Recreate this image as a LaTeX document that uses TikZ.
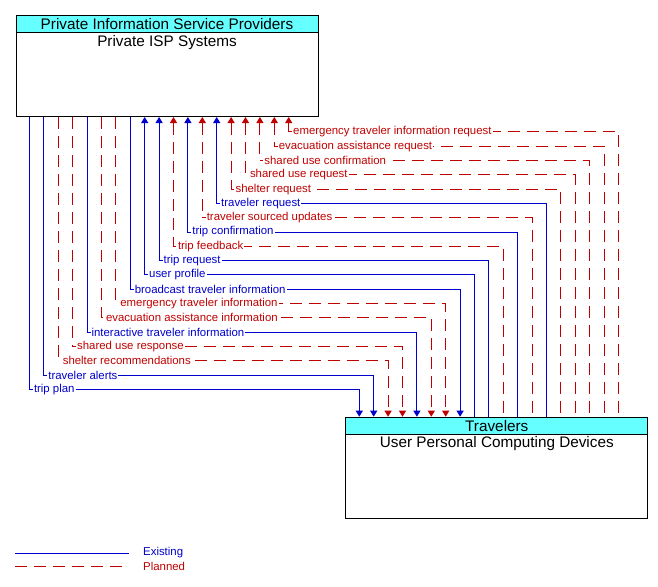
\documentclass[tikz,border=0pt]{standalone}
\usepackage{fontspec}
\setmainfont{Liberation Sans}
\usetikzlibrary{arrows.meta}
\definecolor{flowblue}{RGB}{0,0,204}
\definecolor{flowred}{RGB}{192,0,0}
\definecolor{hdrcyan}{RGB}{102,255,255}

\begin{document}
\begin{tikzpicture}[x=1pt,y=-1pt,
        box/.style={draw,line width=1pt,anchor=north west,inner sep=0pt},
        hdr/.style={draw,line width=1pt,fill=hdrcyan,anchor=north,minimum width=302pt,minimum height=17pt,inner sep=0pt,font=\fontsize{15.3}{17}\selectfont},
        sub/.style={anchor=north,inner sep=0pt,yshift=-1.5pt,font=\fontsize{15.3}{17}\selectfont},
        existing/.style={draw=flowblue,line width=1pt},
        planned/.style={draw=flowred,line width=1pt,dash pattern=on 12pt off 7pt},
        tipdown/.style={-{Triangle[length=6pt,width=7pt]}},
        tipup/.style={{Triangle[length=6pt,width=7pt]}-},
        lbl/.style={anchor=west,fill=white,inner xsep=1pt,inner ysep=0.5pt,xshift=3pt,font=\fontsize{11.4}{12}\selectfont},
        legend/.style={anchor=west,inner sep=0pt,font=\fontsize{11.4}{12}\selectfont},
        ]
    \useasboundingbox (0,0) rectangle (658,586);

    % the two systems
    \node (isp) [box, minimum width=302pt, minimum height=100.5pt] at (15.5,15.5) {};
    \node (isphdr) [hdr] at (isp.north) {Private Information Service Providers};
    \node (ispsub) [sub] at (isphdr.south) {Private ISP Systems};

    \node (trav) [box, minimum width=302pt, minimum height=101.3pt] at (345.3,416.7) {};
    \node (travhdr) [hdr] at (trav.north) {Travelers};
    \node (travsub) [sub] at (travhdr.south) {User Personal Computing Devices};

    % flows to the travelers
    \draw[existing,tipdown] (isp.south -| 29.5,0) |- node[lbl,pos=.5,text=flowblue] {trip plan} (359.3,389.3) -- (trav.north -| 359.3,0);
    \draw[existing,tipdown] (isp.south -| 43.9,0) |- node[lbl,pos=.5,text=flowblue] {traveler alerts} (373.7,375) -- (trav.north -| 373.7,0);
    \draw[planned,tipdown] (isp.south -| 58.3,0) |- node[lbl,pos=.5,text=flowred] {shelter recommendations} (388.1,360.7) -- (trav.north -| 388.1,0);
    \draw[planned,tipdown] (isp.south -| 72.7,0) |- node[lbl,pos=.5,text=flowred] {shared use response} (402.5,346.4) -- (trav.north -| 402.5,0);
    \draw[existing,tipdown] (isp.south -| 87.1,0) |- node[lbl,pos=.5,text=flowblue] {interactive traveler information} (416.9,332.1) -- (trav.north -| 416.9,0);
    \draw[planned,tipdown] (isp.south -| 101.5,0) |- node[lbl,pos=.5,text=flowred] {evacuation assistance information} (431.3,317.8) -- (trav.north -| 431.3,0);
    \draw[planned,tipdown] (isp.south -| 115.9,0) |- node[lbl,pos=.5,text=flowred] {emergency traveler information} (445.7,303.5) -- (trav.north -| 445.7,0);
    \draw[existing,tipdown] (isp.south -| 130.3,0) |- node[lbl,pos=.5,text=flowblue] {broadcast traveler information} (460.1,289.2) -- (trav.north -| 460.1,0);

    % flows to the service providers
    \draw[existing,tipup] (isp.south -| 144.7,0) |- node[lbl,pos=.5,text=flowblue] {user profile} (474.5,274.9) -- (trav.north -| 474.5,0);
    \draw[existing,tipup] (isp.south -| 159.1,0) |- node[lbl,pos=.5,text=flowblue] {trip request} (488.9,260.6) -- (trav.north -| 488.9,0);
    \draw[planned,tipup] (isp.south -| 173.5,0) |- node[lbl,pos=.5,text=flowred] {trip feedback} (503.3,246.3) -- (trav.north -| 503.3,0);
    \draw[existing,tipup] (isp.south -| 187.9,0) |- node[lbl,pos=.5,text=flowblue] {trip confirmation} (517.7,232) -- (trav.north -| 517.7,0);
    \draw[planned,tipup] (isp.south -| 202.3,0) |- node[lbl,pos=.5,text=flowred] {traveler sourced updates} (532.1,217.7) -- (trav.north -| 532.1,0);
    \draw[existing,tipup] (isp.south -| 216.7,0) |- node[lbl,pos=.5,text=flowblue] {traveler request} (546.5,203.4) -- (trav.north -| 546.5,0);
    \draw[planned,tipup] (isp.south -| 231.1,0) |- node[lbl,pos=.5,text=flowred] {shelter request} (560.9,189.1) -- (trav.north -| 560.9,0);
    \draw[planned,tipup] (isp.south -| 245.5,0) |- node[lbl,pos=.5,text=flowred] {shared use request} (575.3,174.8) -- (trav.north -| 575.3,0);
    \draw[planned,tipup] (isp.south -| 259.9,0) |- node[lbl,pos=.5,text=flowred] {shared use confirmation} (589.7,160.5) -- (trav.north -| 589.7,0);
    \draw[planned,tipup] (isp.south -| 274.3,0) |- node[lbl,pos=.5,text=flowred] {evacuation assistance request} (604.1,146.2) -- (trav.north -| 604.1,0);
    \draw[planned,tipup] (isp.south -| 288.7,0) |- node[lbl,pos=.5,text=flowred] {emergency traveler information request} (618.5,131.9) -- (trav.north -| 618.5,0);

    % legend
    \coordinate (exstart) at (15,553);
    \coordinate (plstart) at (15,566);
    \node (exlbl) [legend,text=flowblue] at (143,553) {Existing};
    \node (pllbl) [legend,text=flowred] at (143,566) {Planned};
    \draw[existing] (exstart) -- ++(114,0);
    \draw[planned] (plstart) -- ++(114,0);
\end{tikzpicture}
\end{document}
